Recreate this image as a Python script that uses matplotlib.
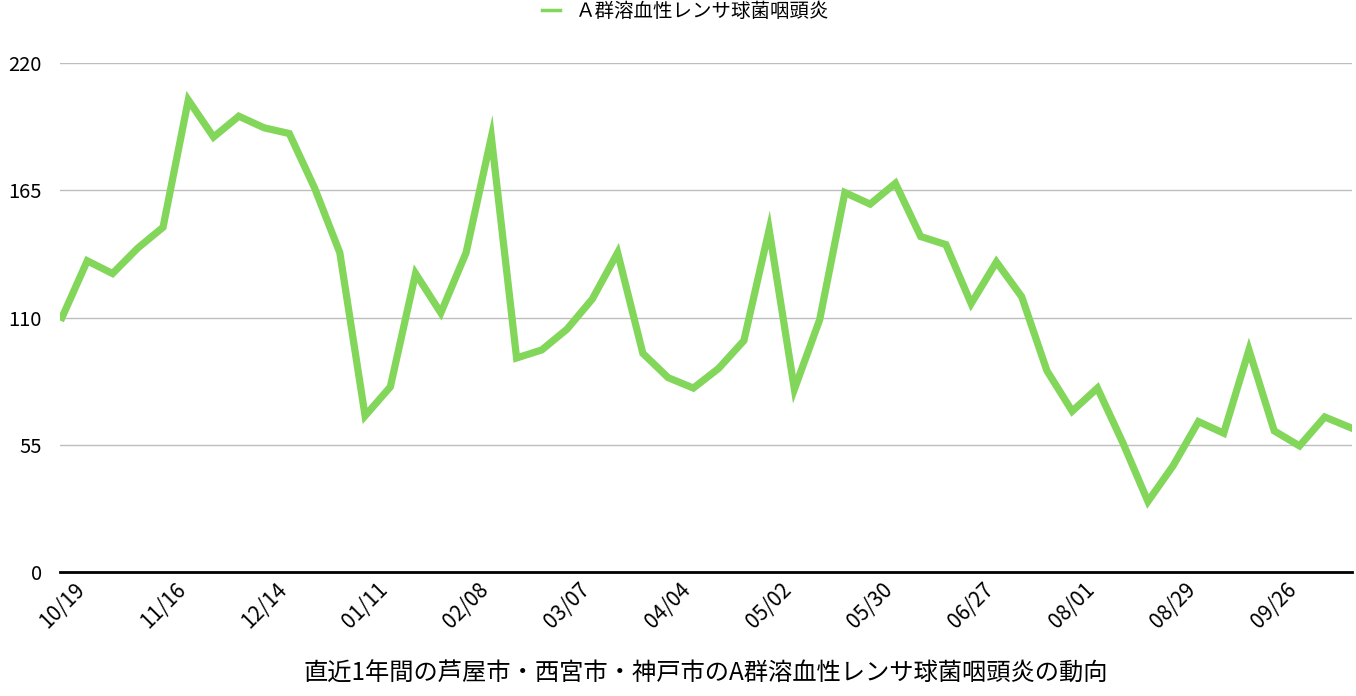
import numpy as np
import matplotlib.pyplot as plt
from matplotlib.lines import Line2D

plt.rcParams['font.family'] = ['Noto Sans CJK JP', 'DejaVu Sans']

# weekly counts (52 weeks)
cases = [110, 134.5, 129, 140, 149, 204, 188, 197, 192, 189.5,
         166, 138, 67.5, 80, 129, 112, 138, 188, 92.5, 96,
         105, 118, 138, 94.5, 84, 79.5, 88, 100, 148, 79,
         109, 164, 159, 168, 145, 141.5, 116, 134, 119, 87,
         69.5, 79.5, 56, 30.5, 46, 65, 60, 96, 61, 54.5,
         67, 62.5]
tick_labels = ['10/19', '11/16', '12/14', '01/11', '02/08', '03/07', '04/04',
               '05/02', '05/30', '06/27', '08/01', '08/29', '09/26']
series_name = 'Ａ群溶血性レンサ球菌咽頭炎'
title = '直近1年間の芦屋市・西宮市・神戸市のA群溶血性レンサ球菌咽頭炎の動向'
yticks = [0, 55, 110, 165, 220]
green = '#82d65a'

fig = plt.figure(figsize=(13.56, 6.96), dpi=100)
ax = fig.add_axes([60 / 1356, 1 - 572 / 696, 1292 / 1356, 509 / 696])

x = np.arange(len(cases))
ax.plot(x, cases, color=green, linewidth=5.2, solid_joinstyle='miter')

ax.set_xlim(-0.08, len(cases) - 1 + 0.08)
ax.set_ylim(0, 220)
ax.set_yticks(yticks)
ax.set_yticklabels([str(v) for v in yticks], fontsize=14.5)
ax.set_xticks(x[::4])
ax.set_xticklabels(tick_labels, rotation=45, ha='center', fontsize=15)

ax.grid(axis='y', color='#bdbdbd', linewidth=1)
ax.set_axisbelow(True)
for side in ['top', 'right', 'left']:
    ax.spines[side].set_visible(False)
ax.spines['bottom'].set_linewidth(2)
ax.spines['bottom'].set_zorder(3)
ax.tick_params(axis='both', length=0)
ax.tick_params(axis='y', pad=13)
ax.tick_params(axis='x', pad=5)

handle = Line2D([], [], color=green, linewidth=2.5)
fig.legend([handle], [series_name], loc='upper center',
           bbox_to_anchor=(0.506, 1.018), frameon=False, fontsize=14,
           handlelength=0.9, handletextpad=0.85, borderpad=0.2)

fig.text(706 / 1356, 1 - 674 / 696, title, ha='center', va='center',
         fontsize=17.5)

fig.savefig('out.png', dpi=100)
